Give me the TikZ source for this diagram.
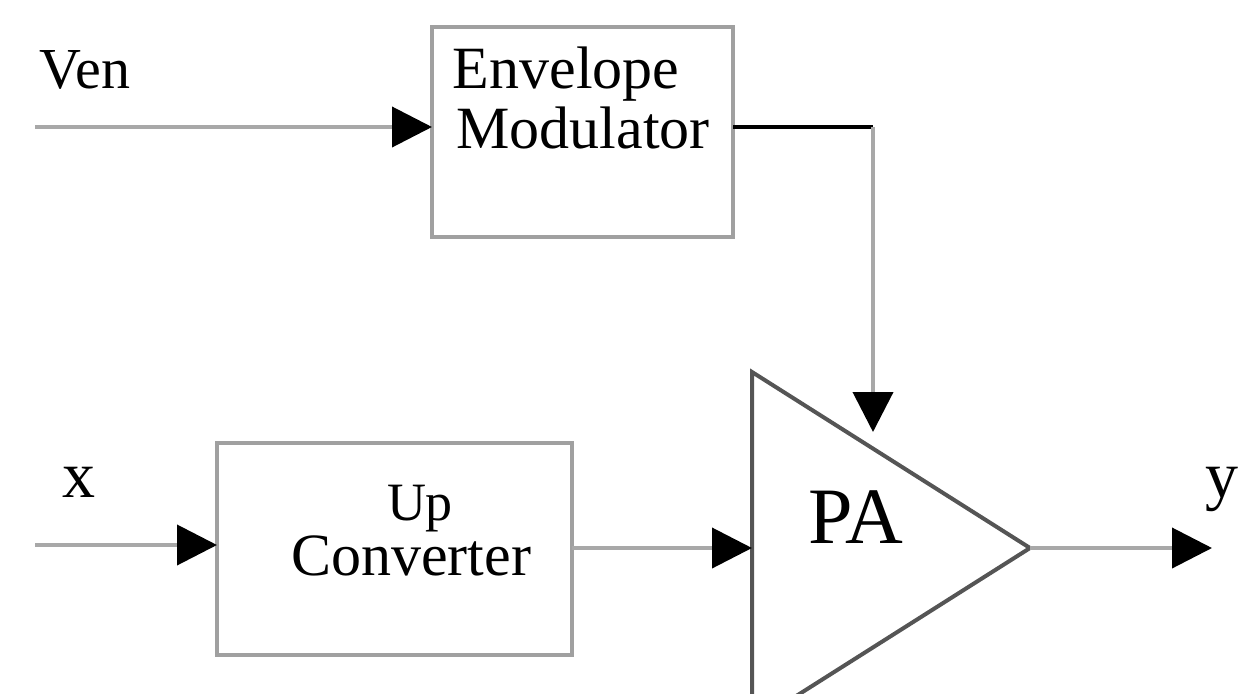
\documentclass[tikz,border=0pt]{standalone}
\usepackage{fontspec}
\setmainfont{Liberation Serif}
\usetikzlibrary{arrows.meta}
\definecolor{wiregray}{HTML}{A8A8A8}
\definecolor{boxgray}{HTML}{A0A0A0}
\definecolor{trigray}{HTML}{555555}
\begin{document}
\begin{tikzpicture}[x=1pt,y=-1pt,
  wire/.style={draw=wiregray, line width=4pt, -{Triangle[length=40pt,width=40pt,black]}},
  blk/.style={draw=boxgray, line width=4pt, inner sep=0pt, outer sep=0pt},
  txt/.style={anchor=base, inner sep=0pt, font=\fontsize{60}{66}\selectfont},
  lbl/.style={anchor=base, inner sep=0pt, font=\fontsize{66}{72}\selectfont}]
\useasboundingbox (0,0) rectangle (1238,693);
% blocks
\node[blk, minimum width=301pt, minimum height=210pt] (env) at (582.5,132) {};
\node[blk, minimum width=355pt, minimum height=212pt] (up) at (394.5,549) {};
\node[txt] (envA) at (566,88) {Envelope};
\node[txt] (envB) at (583,148) {Modulator};
\node[txt, font=\fontsize{54}{60}\selectfont] (upA) at (420,520) {Up};
\node[txt] (upB) at (411,575) {Converter};
% PA triangle
\coordinate (paTL) at (752,372);
\coordinate (paBL) at (752,724);
\coordinate (paOut) at (1030,548);
\coordinate (paIn) at (752,548);
\coordinate (paTop) at (873,432);
\draw[trigray, line width=4pt, line join=miter] (paTL) -- (paOut) -- (paBL) -- cycle;
\node[anchor=base, inner sep=0pt, font=\fontsize{80}{88}\selectfont] (pa) at (856,543) {PA};
% labels and free ends
\node[lbl, font=\fontsize{58}{64}\selectfont] (ven) at (85,88) {Ven};
\node[lbl] (xin) at (79,497) {x};
\node[lbl] (yout) at (1222,497) {y};
\coordinate (venStart) at (35,127);
\coordinate (xStart) at (35,545);
\coordinate (yEnd) at (1212,548);
\coordinate (corner) at (873,127);
% connectors
\draw[wire] (venStart) -- (venStart -| env.west);
\draw[line width=4pt, black] (env.east |- corner) -- (corner);
\draw[wire] (corner) -- (paTop);
\draw[wire] (xStart) -- (xStart -| up.west);
\draw[wire] (up.east |- paIn) -- (paIn);
\draw[wire] (paOut) -- (yEnd);
\end{tikzpicture}
\end{document}
